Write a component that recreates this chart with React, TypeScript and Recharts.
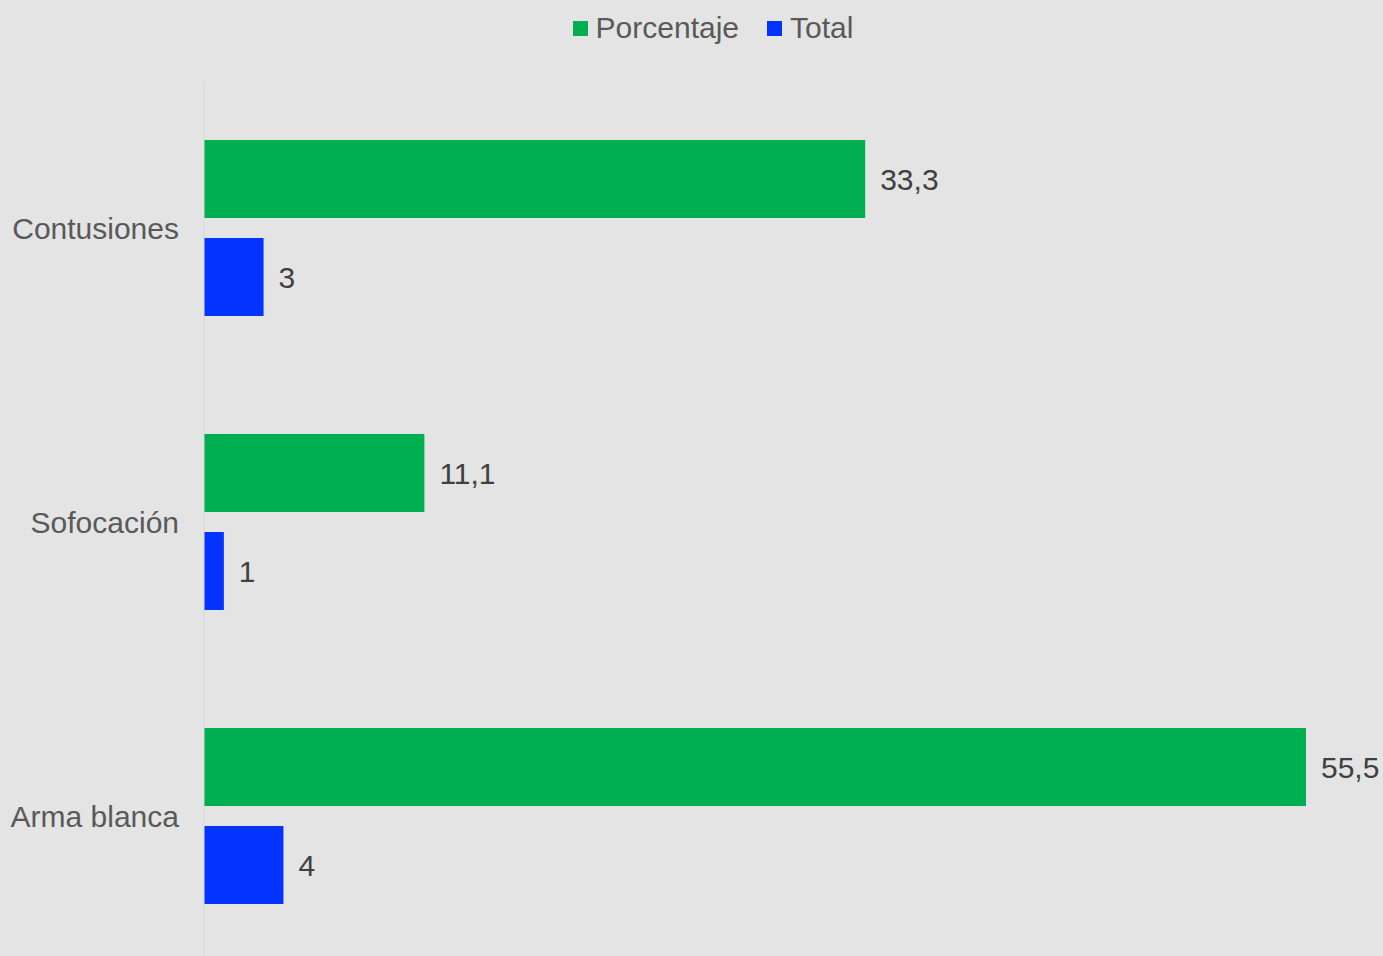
import React from 'react';
import { BarChart, Bar, XAxis, YAxis, Legend, LabelList } from 'recharts';

const categories = ['Contusiones', 'Sofocación', 'Arma blanca'];
const porcentaje = [33.3, 11.1, 55.5];
const total = [3, 1, 4];

const GREEN = '#00b050';
const BLUE = '#0433ff';
const FONT = '"Liberation Sans", Arial, sans-serif';
const FS = 30;

const data = categories.map((name, i) => ({
  name,
  Porcentaje: porcentaje[i],
  Total: total[i],
}));

const fmt = (v: any) => String(v).replace('.', ',');

const LegendContent = () => (
  <div
    style={{
      display: 'flex',
      justifyContent: 'center',
      alignItems: 'center',
      fontFamily: FONT,
      fontSize: FS,
      color: '#595959',
      height: 40,
    }}
  >
    {[
      { label: 'Porcentaje', color: GREEN },
      { label: 'Total', color: BLUE },
    ].map((it, i) => (
      <div key={it.label} style={{ display: 'flex', alignItems: 'center', marginLeft: i ? 28 : 0 }}>
        <span style={{ width: 15, height: 15, background: it.color, display: 'inline-block', marginRight: 8 }} />
        <span>{it.label}</span>
      </div>
    ))}
  </div>
);

const App: React.FC = () => {
  return (
    <div style={{ position: 'absolute', left: 0, top: 0, width: 1383, height: 956, overflow: 'hidden', background: '#e4e4e4' }}>
      <BarChart
        width={1383}
        height={975}
        data={data}
        layout="vertical"
        margin={{ top: 41, right: 77, bottom: 12, left: 0 }}
        barSize={78}
        barGap={20}
        barCategoryGap={59}
      >
        <Legend
          verticalAlign="top"
          align="center"
          height={40}
          wrapperStyle={{ top: 8, left: 60, width: 1306 }}
          content={<LegendContent />}
        />
        <XAxis type="number" hide domain={[0, 55.5]} />
        <YAxis
          type="category"
          dataKey="name"
          width={204}
          tickLine={false}
          tickSize={0}
          tickMargin={25}
          axisLine={{ stroke: '#d9d9d9', strokeWidth: 1 }}
          tick={{ fill: '#595959', fontSize: FS, fontFamily: FONT }}
        />
        <Bar dataKey="Porcentaje" fill={GREEN} isAnimationActive={false}>
          <LabelList dataKey="Porcentaje" position="right" offset={15} formatter={fmt} fill="#404040" fontSize={FS} fontFamily={FONT} />
        </Bar>
        <Bar dataKey="Total" fill={BLUE} isAnimationActive={false}>
          <LabelList dataKey="Total" position="right" offset={15} formatter={fmt} fill="#404040" fontSize={FS} fontFamily={FONT} />
        </Bar>
      </BarChart>
    </div>
  );
};

export default App;
